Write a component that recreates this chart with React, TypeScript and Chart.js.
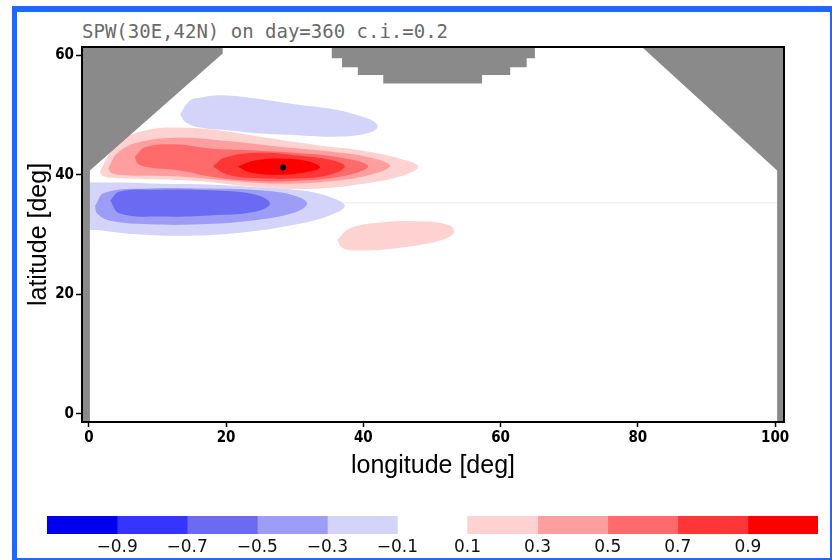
import React, { useEffect, useRef } from "react";
import { Chart, registerables } from "chart.js";

Chart.register(...registerables);

// ---------- text ----------
const TITLE = "SPW(30E,42N) on day=360 c.i.=0.2";
const X_TITLE = "longitude [deg]";
const Y_TITLE = "latitude [deg]";

// ---------- axes ----------
const X_TICKS = [0, 20, 40, 60, 80, 100];
const Y_TICKS = [0, 20, 40, 60];
const X_MIN = -1;
const X_MAX = 101.3;
const Y_MIN = -1.4;
const Y_MAX = 61.4;

// ---------- colour scale ----------
const NEG_LEVELS = [-1.1, -0.9, -0.7, -0.5, -0.3, -0.1];
const POS_LEVELS = [0.1, 0.3, 0.5, 0.7, 0.9, 1.1];
const CB_TICKS = [-0.9, -0.7, -0.5, -0.3, -0.1, 0.1, 0.3, 0.5, 0.7, 0.9];
const NEG_COLORS = ["#0000ee", "#3535ff", "#6a6af2", "#9d9df8", "#d4d4fa"];
const POS_COLORS = ["#ffd2d2", "#ff9e9e", "#ff6a6a", "#ff3636", "#ff0000"];
const LAND_COLOR = "#8a8a8a";

type P = [number, number];

// ---------- contour regions (lon, lat) ----------
const BLUE_N_01: P[] = [
  [13.3, 50.2], [14.7, 52.4], [16.2, 52.9], [19.1, 53.3], [23.5, 52.9], [27.8, 52.2],
  [30.8, 51.7], [35.1, 51.1], [38.8, 50.1], [41.3, 49.1], [42.1, 48.1], [41.0, 47.1],
  [36.6, 46.4], [30.8, 46.6], [24.9, 46.9], [20.6, 47.4], [16.2, 47.9], [14.0, 48.9],
];
const BLUE_S_01: P[] = [
  [-0.5, 38.7], [4.5, 38.7], [10.4, 38.5], [16.2, 38.4], [23.5, 38.0], [30.8, 37.4],
  [35.1, 36.3], [37.3, 34.8], [35.1, 33.2], [29.3, 31.5], [22.0, 30.3], [14.7, 29.8],
  [7.4, 30.0], [1.6, 30.7], [-0.5, 31.3],
];
const BLUE_S_03: P[] = [
  [0.9, 34.8], [2.3, 37.0], [8.9, 37.7], [16.2, 37.7], [24.9, 37.4], [30.0, 36.5],
  [31.8, 35.2], [30.0, 33.7], [23.5, 32.3], [16.2, 31.7], [8.9, 31.7], [3.1, 32.3], [1.2, 33.5],
];
const BLUE_S_05: P[] = [
  [3.1, 35.7], [4.5, 37.2], [10.4, 37.5], [17.6, 37.4], [24.2, 36.7], [26.4, 35.2],
  [24.2, 33.8], [17.6, 33.2], [10.4, 33.0], [4.5, 33.5],
];
const RED_01: P[] = [
  [1.6, 40.4], [2.8, 43.2], [5.2, 46.1], [8.9, 47.6], [13.3, 47.9], [19.1, 47.4],
  [26.4, 46.1], [33.7, 44.9], [39.5, 44.1], [45.3, 42.7], [48.0, 41.4], [45.3, 39.7],
  [39.5, 38.4], [33.7, 37.7], [27.8, 37.7], [22.0, 38.2], [16.2, 38.9], [10.4, 39.2],
  [4.5, 39.4], [2.2, 39.7],
];
const RED_S_01: P[] = [
  [36.2, 29.1], [38.0, 31.0], [42.4, 32.0], [48.3, 32.2], [52.6, 31.5], [53.2, 30.3],
  [51.2, 29.0], [45.3, 27.8], [39.5, 27.3], [36.9, 27.8],
];
const RED_03: P[] = [
  [2.8, 41.0], [4.2, 43.7], [7.4, 45.5], [13.3, 46.2], [20.6, 45.6], [27.8, 44.7],
  [35.1, 43.9], [41.0, 42.9], [43.9, 41.5], [41.0, 40.0], [35.1, 38.9], [27.8, 38.5],
  [20.6, 39.0], [13.3, 39.7], [6.0, 39.9], [3.4, 40.2],
];
const RED_05: P[] = [
  [6.7, 43.0], [8.2, 44.6], [12.5, 45.1], [17.6, 44.4], [23.5, 44.1], [30.8, 43.6],
  [36.6, 42.9], [40.7, 41.5], [38.0, 40.0], [30.8, 39.0], [23.5, 39.0], [17.6, 39.7],
  [13.3, 40.7], [8.9, 41.2], [7.1, 41.9],
];
const RED_07: P[] = [
  [18.1, 41.4], [19.8, 42.9], [24.9, 43.7], [30.8, 43.2], [35.1, 42.5], [37.3, 41.4],
  [35.1, 40.0], [30.8, 39.4], [24.9, 39.4], [20.3, 40.0],
];
const RED_09: P[] = [
  [21.7, 41.4], [24.2, 42.4], [28.6, 42.7], [32.2, 42.2], [33.7, 41.2], [31.5, 40.4],
  [27.8, 40.0], [23.5, 40.4],
];

// ---------- land mask ----------
const LAND_WEST: P[] = [
  [-1, -1.4], [0.15, -1.4], [0.15, 40.7], [19.5, 60.3], [19.5, 61.4], [-1, 61.4],
];
const LAND_NORTH: P[] = [
  [35.4, 61.4], [35.4, 59.5], [36.9, 59.5], [36.9, 58.0], [39.2, 58.0], [39.2, 56.7],
  [42.9, 56.7], [42.9, 55.3], [57.3, 55.3], [57.3, 56.7], [61.4, 56.7], [61.4, 58.0],
  [63.8, 58.0], [63.8, 59.5], [65.0, 59.5], [65.0, 61.4],
];
const LAND_EAST: P[] = [
  [80.6, 61.4], [100.3, 40.7], [100.3, -1.4], [101.3, -1.4], [101.3, 61.4],
];
const FAINT_LINE: P[] = [[37, 35.3], [100.3, 35.3]];
const REF_POINT: P[] = [[28.3, 41.2]];

const CONTOURS: { level: number; pts: P[] }[] = [
  { level: -0.1, pts: BLUE_N_01 },
  { level: -0.1, pts: BLUE_S_01 },
  { level: -0.3, pts: BLUE_S_03 },
  { level: -0.5, pts: BLUE_S_05 },
  { level: 0.1, pts: RED_01 },
  { level: 0.1, pts: RED_S_01 },
  { level: 0.3, pts: RED_03 },
  { level: 0.5, pts: RED_05 },
  { level: 0.7, pts: RED_07 },
  { level: 0.9, pts: RED_09 },
];

const TICK_FONT = "'Liberation Sans Narrow', 'DejaVu Sans Condensed', 'Liberation Sans', sans-serif";
const LABEL_FONT = "'Liberation Sans', Arial, sans-serif";

function levelColor(level: number): string {
  if (level > 0) return POS_COLORS[POS_LEVELS.findIndex((l) => Math.abs(l - level) < 1e-6)];
  const idx = NEG_LEVELS.findIndex((l) => Math.abs(l - level) < 1e-6) - 1;
  return NEG_COLORS[idx];
}

const closed = (pts: P[]) => [...pts, pts[0]].map(([x, y]) => ({ x, y }));

const frameBox = {
  id: "frameBox",
  afterDatasetsDraw(chart: any) {
    const { ctx, chartArea } = chart;
    const { left, top, right, bottom } = chartArea;
    ctx.save();
    ctx.strokeStyle = "#000";
    ctx.lineWidth = 2;
    ctx.strokeRect(left, top, right - left, bottom - top);
    ctx.restore();
  },
};

function fmtCb(v: number) {
  const s = Math.abs(v).toFixed(1);
  return v < 0 ? "\u2212" + s : s;
}

export default function App() {
  const mainRef = useRef<HTMLCanvasElement>(null);
  const cbRef = useRef<HTMLCanvasElement>(null);

  useEffect(() => {
    const datasets: any[] = [];
    CONTOURS.forEach((c) => {
      datasets.push({
        data: closed(c.pts),
        backgroundColor: levelColor(c.level),
        borderColor: levelColor(c.level),
        borderWidth: 0,
        fill: "shape",
        tension: 0.4,
        pointRadius: 0,
        pointHoverRadius: 0,
      });
    });
    datasets.push({
      data: FAINT_LINE.map(([x, y]) => ({ x, y })),
      borderColor: "#ebebeb",
      borderWidth: 1,
      fill: false,
      tension: 0,
      pointRadius: 0,
    });
    [LAND_WEST, LAND_NORTH, LAND_EAST].forEach((pts) => {
      datasets.push({
        data: closed(pts),
        backgroundColor: LAND_COLOR,
        borderColor: LAND_COLOR,
        borderWidth: 0,
        fill: "shape",
        tension: 0,
        pointRadius: 0,
        pointHoverRadius: 0,
      });
    });
    datasets.push({
      data: REF_POINT.map(([x, y]) => ({ x, y })),
      showLine: false,
      pointRadius: 3,
      pointBackgroundColor: "#000",
      pointBorderColor: "#000",
      pointBorderWidth: 0,
    });
    const n = datasets.length;
    datasets.forEach((d, i) => (d.order = n - i));

    const main = new Chart(mainRef.current!, {
      type: "line",
      data: { datasets },
      options: {
        responsive: false,
        animation: false,
        events: [],
        layout: { padding: { left: 16, right: 48, top: 47, bottom: 0 } },
        plugins: {
          legend: { display: false },
          tooltip: { enabled: false },
          title: { display: false },
        },
        scales: {
          x: {
            type: "linear",
            min: X_MIN,
            max: X_MAX,
            afterBuildTicks: (s: any) => {
              s.ticks = X_TICKS.map((v) => ({ value: v }));
            },
            afterFit: (s: any) => {
              s.height = 78;
            },
            grid: { display: true, drawOnChartArea: false, drawTicks: true, tickLength: 5, tickWidth: 1.5, tickColor: "#000" },
            border: { display: true, color: "#000", width: 2 },
            ticks: {
              color: "#000",
              padding: 2,
              maxRotation: 0,
              autoSkip: false,
              font: { family: TICK_FONT, size: 15, weight: "bold" },
            },
            title: {
              display: true,
              text: X_TITLE,
              color: "#000",
              font: { family: LABEL_FONT, size: 25, lineHeight: 1 },
              padding: { top: 0, bottom: 21 },
            },
          },
          y: {
            type: "linear",
            min: Y_MIN,
            max: Y_MAX,
            afterBuildTicks: (s: any) => {
              s.ticks = Y_TICKS.map((v) => ({ value: v }));
            },
            afterFit: (s: any) => {
              s.width = 66;
            },
            grid: { display: true, drawOnChartArea: false, drawTicks: true, tickLength: 6, tickWidth: 1.5, tickColor: "#000" },
            border: { display: true, color: "#000", width: 2 },
            ticks: {
              color: "#000",
              padding: 2,
              autoSkip: false,
              font: { family: TICK_FONT, size: 15, weight: "bold" },
            },
            title: {
              display: true,
              text: Y_TITLE,
              color: "#000",
              font: { family: LABEL_FONT, size: 25, lineHeight: 1 },
              padding: { top: 11, bottom: 0 },
            },
          },
        },
      } as any,
      plugins: [frameBox],
    });

    const cbDatasets: any[] = [];
    for (let i = 0; i < NEG_LEVELS.length - 1; i++) {
      cbDatasets.push({ data: [[NEG_LEVELS[i], NEG_LEVELS[i + 1]]], backgroundColor: NEG_COLORS[i] });
    }
    for (let i = 0; i < POS_LEVELS.length - 1; i++) {
      cbDatasets.push({ data: [[POS_LEVELS[i], POS_LEVELS[i + 1]]], backgroundColor: POS_COLORS[i] });
    }
    cbDatasets.forEach((d) => {
      d.grouped = false;
      d.barPercentage = 1;
      d.categoryPercentage = 1;
      d.borderWidth = 0;
    });

    const cb = new Chart(cbRef.current!, {
      type: "bar",
      data: { labels: ["cb"], datasets: cbDatasets },
      options: {
        indexAxis: "y",
        responsive: false,
        animation: false,
        events: [],
        layout: { padding: { left: 47, right: 14, top: 16, bottom: 0 } },
        plugins: { legend: { display: false }, tooltip: { enabled: false } },
        scales: {
          x: {
            type: "linear",
            min: NEG_LEVELS[0],
            max: POS_LEVELS[POS_LEVELS.length - 1],
            afterBuildTicks: (s: any) => {
              s.ticks = CB_TICKS.map((v) => ({ value: v }));
            },
            afterFit: (s: any) => {
              s.height = 26;
            },
            grid: { display: false, drawTicks: false },
            border: { display: false },
            ticks: {
              padding: 3,
              color: "#111",
              autoSkip: false,
              maxRotation: 0,
              font: { family: "'DejaVu Sans', sans-serif", size: 17 },
              callback: (v: any) => fmtCb(Number(v)),
            },
          },
          y: { display: false },
        },
      } as any,
    });

    return () => {
      main.destroy();
      cb.destroy();
    };
  }, []);

  return (
    <div style={{ position: "fixed", left: 0, top: 0, width: 832, height: 560, background: "#fff", overflow: "hidden" }}>
      <div
        style={{
          position: "absolute",
          left: 12,
          top: 6,
          width: 820,
          height: 554,
          boxSizing: "border-box",
          borderLeft: "5px solid #1a6aff",
          borderTop: "6px solid #1a6aff",
          borderRight: "2px solid #1a6aff",
          borderBottom: "2px solid #1a6aff",
        }}
      />
      <div
        style={{
          position: "absolute",
          left: 82,
          top: 20,
          fontFamily: "'DejaVu Sans Mono', monospace",
          fontSize: 19,
          lineHeight: "22px",
          color: "#6a6a6a",
          whiteSpace: "nowrap",
        }}
      >
        {TITLE}
      </div>
      <canvas ref={mainRef} width={832} height={500} style={{ position: "absolute", left: 0, top: 0, width: 832, height: 500 }} />
      <canvas ref={cbRef} width={832} height={60} style={{ position: "absolute", left: 0, top: 500, width: 832, height: 60 }} />
    </div>
  );
}
